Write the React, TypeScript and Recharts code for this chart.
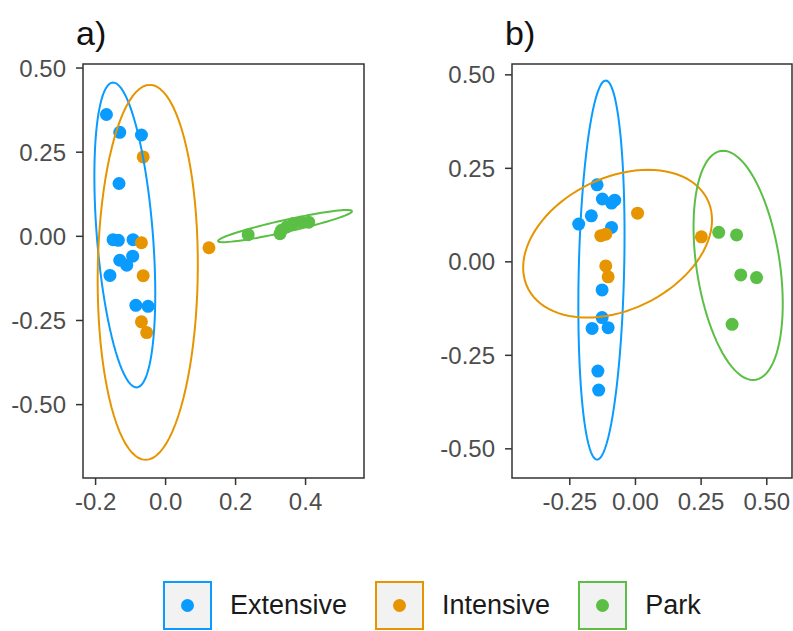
import { ScatterChart, Scatter, XAxis, YAxis, ReferenceArea } from "recharts";

type Pt = { x: number; y: number };

const groups = ["Extensive", "Intensive", "Park"];
const colors = ["#0a9bff", "#e69500", "#5bbf45"];

// panel a
const aExtensive: Pt[] = [
  { x: -0.169, y: 0.362 }, { x: -0.131, y: 0.309 }, { x: -0.069, y: 0.301 },
  { x: -0.133, y: 0.157 }, { x: -0.15, y: -0.01 }, { x: -0.135, y: -0.012 },
  { x: -0.093, y: -0.01 }, { x: -0.131, y: -0.071 }, { x: -0.111, y: -0.086 },
  { x: -0.094, y: -0.059 }, { x: -0.159, y: -0.116 }, { x: -0.085, y: -0.205 },
  { x: -0.05, y: -0.208 },
];
const aIntensive: Pt[] = [
  { x: -0.064, y: 0.236 }, { x: -0.069, y: -0.019 }, { x: -0.064, y: -0.117 },
  { x: -0.069, y: -0.254 }, { x: -0.054, y: -0.286 }, { x: 0.124, y: -0.034 },
];
const aPark: Pt[] = [
  { x: 0.236, y: 0.005 }, { x: 0.327, y: 0.008 }, { x: 0.331, y: 0.018 },
  { x: 0.346, y: 0.028 }, { x: 0.365, y: 0.038 }, { x: 0.389, y: 0.042 },
  { x: 0.409, y: 0.042 },
];
// ellipse: centre x, centre y, conjugate half-axes u (ux, uy) and v (vx, vy)
const aEllipses = [
  [-0.1165, 0.004, -0.0335, 0.453, 0.0803, 0],
  [-0.051, -0.107, 0.006, 0.557, 0.143, 0],
  [0.3415, 0.0305, 0.1915, 0.0445, 0.0037, -0.0174],
];

// panel b
const bExtensive: Pt[] = [
  { x: -0.146, y: 0.206 }, { x: -0.126, y: 0.168 }, { x: -0.091, y: 0.157 },
  { x: -0.079, y: 0.165 }, { x: -0.168, y: 0.123 }, { x: -0.216, y: 0.101 },
  { x: -0.091, y: 0.092 }, { x: -0.127, y: -0.075 }, { x: -0.127, y: -0.149 },
  { x: -0.165, y: -0.178 }, { x: -0.104, y: -0.176 }, { x: -0.143, y: -0.292 },
  { x: -0.14, y: -0.343 },
];
const bIntensive: Pt[] = [
  { x: 0.008, y: 0.13 }, { x: -0.132, y: 0.07 }, { x: -0.113, y: 0.074 },
  { x: -0.113, y: -0.011 }, { x: -0.104, y: -0.04 }, { x: 0.251, y: 0.067 },
];
const bPark: Pt[] = [
  { x: 0.317, y: 0.079 }, { x: 0.385, y: 0.072 }, { x: 0.401, y: -0.035 },
  { x: 0.461, y: -0.042 }, { x: 0.368, y: -0.167 },
];
const bEllipses = [
  [-0.1295, -0.022, 0.0165, 0.507, 0.0864, 0],
  [-0.068, 0.0485, 0.116, 0.1975, 0.3403, 0],
  [0.391, -0.0095, -0.057, 0.3065, 0.16, 0],
];

const aXTicks = [-0.2, 0, 0.2, 0.4];
const bXTicks = [-0.25, 0, 0.25, 0.5];
const yTicks = [-0.5, -0.25, 0, 0.25, 0.5];

function outline(e: number[]) {
  const [cx, cy, ux, uy, vx, vy] = e;
  const pts: Pt[] = [];
  for (let i = 0; i <= 90; i++) {
    const t = (i / 90) * 2 * Math.PI;
    pts.push({
      x: cx + ux * Math.cos(t) + vx * Math.sin(t),
      y: cy + uy * Math.cos(t) + vy * Math.sin(t),
    });
  }
  return pts;
}

const dot = (color: string) => (props: any) =>
  <circle cx={props.cx} cy={props.cy} r={6.5} fill={color} />;

type PanelProps = {
  left: number;
  width: number;
  marginLeft: number;
  marginRight: number;
  xDomain: [number, number];
  yDomain: [number, number];
  xTicks: number[];
  xDigits: number;
  points: Pt[][];
  ellipses: number[][];
  label: string;
  labelLeft: number;
};

function Panel(p: PanelProps) {
  const tickStyle = { fill: "#4d4d4d", fontSize: 24 };
  return (
    <>
      <div
        style={{
          position: "absolute",
          left: p.labelLeft,
          top: 16,
          fontSize: 34,
          lineHeight: "34px",
          color: "#111",
        }}
      >
        {p.label}
      </div>
      <div style={{ position: "absolute", left: p.left, top: 0 }}>
        <ScatterChart
          width={p.width}
          height={520}
          margin={{ top: 64, right: p.marginRight, bottom: 2, left: p.marginLeft }}
        >
          <XAxis
            type="number"
            dataKey="x"
            domain={p.xDomain}
            ticks={p.xTicks}
            allowDataOverflow
            interval={0}
            height={40}
            axisLine={false}
            tickLine={{ stroke: "#333", strokeWidth: 1.5 }}
            tickSize={7}
            tickMargin={8}
            tick={tickStyle}
            tickFormatter={(v: number) => v.toFixed(p.xDigits)}
          />
          <YAxis
            type="number"
            dataKey="y"
            domain={p.yDomain}
            ticks={yTicks}
            allowDataOverflow
            interval={0}
            width={70}
            axisLine={false}
            tickLine={{ stroke: "#333", strokeWidth: 1.5 }}
            tickSize={7}
            tickMargin={10}
            tick={tickStyle}
            tickFormatter={(v: number) => v.toFixed(2)}
          />
          {p.points.map((pts, i) => (
            <Scatter
              key={"p" + i}
              name={groups[i]}
              data={pts}
              fill={colors[i]}
              shape={dot(colors[i])}
              isAnimationActive={false}
            />
          ))}
          {p.ellipses.map((e, i) => (
            <Scatter
              key={"e" + i}
              data={outline(e)}
              line={{ stroke: colors[i], strokeWidth: 2 }}
              lineType="joint"
              shape={() => <g />}
              isAnimationActive={false}
            />
          ))}
          <ReferenceArea
            x1={p.xDomain[0]}
            x2={p.xDomain[1]}
            y1={p.yDomain[0]}
            y2={p.yDomain[1]}
            fill="none"
            stroke="#333"
            strokeWidth={1.5}
            ifOverflow="visible"
          />
        </ScatterChart>
      </div>
    </>
  );
}

export default function App() {
  return (
    <div
      style={{
        position: "absolute",
        left: 0,
        top: 0,
        width: 793,
        height: 631,
        overflow: "hidden",
        background: "#fff",
        fontFamily: "'Liberation Sans', Arial, sans-serif",
      }}
    >
      <Panel
        left={0}
        width={380}
        marginLeft={13}
        marginRight={16}
        xDomain={[-0.236, 0.567]}
        yDomain={[-0.718, 0.512]}
        xTicks={aXTicks}
        xDigits={1}
        points={[aExtensive, aIntensive, aPark]}
        ellipses={aEllipses}
        label="a)"
        labelLeft={76}
      />
      <Panel
        left={390}
        width={403}
        marginLeft={52}
        marginRight={1}
        xDomain={[-0.47, 0.596]}
        yDomain={[-0.578, 0.529]}
        xTicks={bXTicks}
        xDigits={2}
        points={[bExtensive, bIntensive, bPark]}
        ellipses={bEllipses}
        label="b)"
        labelLeft={505}
      />
      <div
        style={{
          position: "absolute",
          left: 163,
          top: 581,
          display: "flex",
          alignItems: "center",
        }}
      >
        {groups.map((g, i) => (
          <div key={g} style={{ display: "flex", alignItems: "center", marginRight: 28 }}>
            <div
              style={{
                width: 45,
                height: 45,
                border: `2px solid ${colors[i]}`,
                background: "#f2f2f2",
                display: "flex",
                alignItems: "center",
                justifyContent: "center",
              }}
            >
              <div style={{ width: 13, height: 13, borderRadius: "50%", background: colors[i] }} />
            </div>
            <span style={{ marginLeft: 18, fontSize: 27, color: "#1a1a1a" }}>{g}</span>
          </div>
        ))}
      </div>
    </div>
  );
}
